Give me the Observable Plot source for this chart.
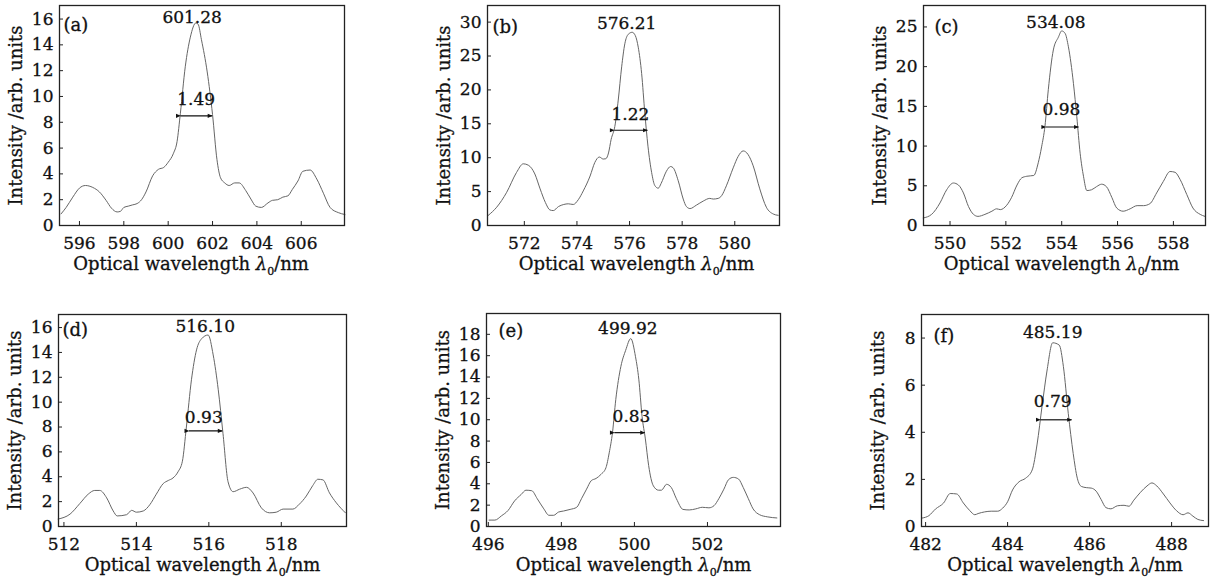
<!DOCTYPE html>
<html><head><meta charset="utf-8">
<script src="https://cdn.jsdelivr.net/npm/d3@7"></script>
<script src="https://cdn.jsdelivr.net/npm/@observablehq/plot@0.6"></script>
<style>
html,body{margin:0;padding:0;background:#fff;}
#chart{position:relative;width:1220px;height:587px;overflow:hidden;background:#fff;}
#chart svg{position:absolute;overflow:visible;}
#chart svg text{stroke:#111;stroke-width:0.3px;}
</style></head><body><div id="chart"></div>
<script>
// ---------- data (wavelength nm, intensity arb. units) ----------
const specA = [[595.17,0.9],[595.4,1.4],[595.7,2.2],[596.0,2.9],[596.27,3.1],[596.6,2.95],[596.9,2.6],[597.2,1.95],[597.44,1.35],[597.7,1.05],[597.85,1.1],[598.0,1.4],[598.2,1.5],[598.4,1.6],[598.6,1.7],[598.8,2.0],[599.0,2.6],[599.3,3.85],[599.56,4.35],[599.8,4.5],[600.0,4.9],[600.24,5.6],[600.4,6.5],[600.55,8.7],[600.77,12.3],[601.0,14.6],[601.25,15.7],[601.35,15.6],[601.5,14.4],[601.76,11.9],[602.0,8.6],[602.2,5.1],[602.36,3.7],[602.55,3.3],[602.75,3.1],[603.0,3.3],[603.2,3.3],[603.5,2.7],[603.73,2.05],[603.95,1.5],[604.2,1.4],[604.5,1.75],[604.7,1.95],[604.94,2.0],[605.17,2.2],[605.4,2.3],[605.6,2.8],[605.85,3.45],[606.07,4.2],[606.4,4.3],[606.7,3.6],[607.0,2.5],[607.3,1.4],[607.67,1.0],[607.97,0.85]];
const specB = [[570.63,1.5],[570.95,2.7],[571.33,4.9],[571.7,7.8],[571.96,9.1],[572.15,8.9],[572.4,7.6],[572.6,5.4],[572.8,3.4],[572.97,2.3],[573.1,2.2],[573.3,2.8],[573.5,3.1],[573.67,3.2],[573.86,3.1],[574.05,3.8],[574.24,5.1],[574.5,7.3],[574.68,9.3],[574.85,10.1],[575.0,9.8],[575.1,9.85],[575.2,10.7],[575.3,12.7],[575.44,14.6],[575.57,18.5],[575.7,23.4],[575.82,26.8],[575.95,28.2],[576.1,28.5],[576.22,28.0],[576.33,26.3],[576.46,22.4],[576.58,16.6],[576.7,11.7],[576.84,7.8],[576.96,5.9],[577.09,5.5],[577.2,6.2],[577.4,8.0],[577.56,8.7],[577.66,8.5],[577.85,6.6],[578.04,3.9],[578.16,2.8],[578.3,2.5],[578.54,3.0],[578.8,3.6],[579.05,4.0],[579.18,3.9],[579.37,4.0],[579.5,4.4],[579.68,5.85],[579.94,8.5],[580.13,10.2],[580.32,11.0],[580.5,10.5],[580.7,8.8],[580.95,5.4],[581.2,2.7],[581.46,1.7],[581.65,1.5]];
const specC = [[549.04,0.95],[549.34,1.4],[549.64,2.84],[549.88,4.5],[550.12,5.35],[550.3,5.1],[550.48,4.1],[550.66,2.4],[550.84,1.4],[551.0,1.15],[551.25,1.4],[551.5,1.8],[551.67,2.1],[551.8,2.0],[552.03,2.55],[552.2,3.5],[552.4,5.1],[552.57,6.0],[552.75,6.2],[553.0,6.3],[553.16,7.9],[553.28,9.9],[553.4,12.5],[553.52,17.1],[553.7,22.1],[553.88,23.7],[554.0,24.5],[554.12,24.2],[554.24,22.5],[554.42,17.9],[554.54,13.7],[554.66,9.1],[554.78,6.2],[554.9,4.4],[555.07,4.5],[555.25,4.9],[555.43,5.2],[555.6,4.9],[555.8,3.5],[555.97,2.2],[556.2,1.8],[556.45,2.1],[556.7,2.5],[556.93,2.5],[557.16,2.75],[557.4,4.1],[557.64,5.55],[557.88,6.8],[558.06,6.7],[558.24,5.8],[558.48,3.9],[558.7,2.2],[558.96,1.4],[559.13,1.15]];
const specD = [[511.84,0.6],[512.17,1.0],[512.44,1.85],[512.67,2.6],[512.85,2.9],[512.99,2.9],[513.18,2.3],[513.36,1.25],[513.47,0.85],[513.73,0.95],[513.87,1.3],[514.0,1.15],[514.19,1.25],[514.37,1.75],[514.55,2.6],[514.74,3.45],[514.88,3.7],[515.01,3.9],[515.15,4.4],[515.27,5.25],[515.38,8.0],[515.52,11.8],[515.66,14.2],[515.8,15.1],[515.98,15.4],[516.12,13.8],[516.26,11.0],[516.39,7.5],[516.53,3.6],[516.67,2.8],[516.85,3.0],[517.04,3.15],[517.22,2.7],[517.45,1.5],[517.68,1.1],[517.86,1.15],[518.05,1.4],[518.32,1.4],[518.5,1.8],[518.69,2.45],[518.87,3.3],[519.01,3.8],[519.15,3.75],[519.33,2.7],[519.52,1.9],[519.77,1.1]];
const specE = [[496.02,0.6],[496.18,0.6],[496.36,1.0],[496.54,1.5],[496.72,2.4],[496.9,3.0],[497.03,3.4],[497.19,3.35],[497.34,2.6],[497.52,1.65],[497.66,1.05],[497.79,1.05],[497.92,1.35],[498.06,1.45],[498.24,1.6],[498.42,1.8],[498.55,2.6],[498.69,3.5],[498.82,4.3],[498.95,4.5],[499.09,4.9],[499.22,5.5],[499.31,6.9],[499.4,8.8],[499.49,11.9],[499.63,15.0],[499.76,16.5],[499.9,17.6],[500.03,15.9],[500.12,13.8],[500.21,10.3],[500.3,8.2],[500.39,5.7],[500.52,3.8],[500.66,3.4],[500.74,3.4],[500.88,3.95],[501.01,3.65],[501.15,2.6],[501.33,1.6],[501.5,1.55],[501.68,1.65],[501.86,1.8],[502.04,1.75],[502.18,1.95],[502.31,2.6],[502.45,3.5],[502.58,4.4],[502.71,4.6],[502.85,4.45],[502.98,3.65],[503.12,2.6],[503.25,1.65],[503.43,1.1],[503.65,0.9],[503.9,0.8]];
const specF = [[481.92,0.36],[482.08,0.46],[482.24,0.74],[482.44,1.0],[482.6,1.4],[482.76,1.38],[482.92,1.0],[483.08,0.67],[483.2,0.5],[483.28,0.55],[483.44,0.62],[483.6,0.65],[483.76,0.65],[483.88,0.78],[484.0,1.05],[484.12,1.55],[484.28,1.9],[484.44,2.05],[484.6,2.4],[484.72,3.5],[484.84,5.1],[484.96,6.6],[485.1,7.8],[485.26,7.7],[485.36,6.8],[485.48,4.8],[485.6,3.1],[485.7,2.05],[485.8,1.7],[485.92,1.65],[486.04,1.63],[486.16,1.5],[486.28,1.15],[486.4,0.8],[486.52,0.75],[486.68,0.88],[486.84,0.9],[486.96,0.86],[487.08,1.12],[487.24,1.45],[487.4,1.72],[487.52,1.85],[487.64,1.72],[487.8,1.38],[487.96,1.0],[488.12,0.67],[488.28,0.5],[488.4,0.58],[488.52,0.44],[488.64,0.3],[488.78,0.25]];
const spectra = [specA, specB, specC, specD, specE, specF];

const panelTags = ["(a)", "(b)", "(c)", "(d)", "(e)", "(f)"];
const xDomains = [[595.1, 607.95], [570.6, 581.7], [549.05, 559.15], [511.85, 519.8], [495.95, 504.0], [481.9, 488.9]];
const yMax = [17.05, 32.45, 27.7, 17.05, 19.95, 9.0];
const xTicks = [[596, 598, 600, 602, 604, 606], [572, 574, 576, 578, 580], [550, 552, 554, 556, 558], [512, 514, 516, 518], [496, 498, 500, 502], [482, 484, 486, 488]];
const yTicks = [[0, 2, 4, 6, 8, 10, 12, 14, 16], [0, 5, 10, 15, 20, 25, 30], [0, 5, 10, 15, 20, 25], [0, 2, 4, 6, 8, 10, 12, 14, 16], [0, 2, 4, 6, 8, 10, 12, 14, 16, 18], [0, 2, 4, 6, 8]];

// peak-wavelength labels
const peakText = ["601.28", "576.21", "534.08", "516.10", "499.92", "485.19"];
const peakX = [601.08, 575.89, 553.79, 515.9, 499.82, 485.1];
const peakY = [16.1, 29.85, 25.6, 16.06, 18.5, 8.22];
// FWHM labels and arrows
const fwhmText = ["1.49", "1.22", "0.98", "0.93", "0.83", "0.79"];
const fwhmX = [601.26, 576.03, 553.99, 515.86, 499.92, 485.1];
const fwhmY = [9.76, 16.4, 14.55, 8.8, 10.28, 5.3];
const arrowX1 = [600.55, 575.42, 553.43, 515.45, 499.45, 484.8];
const arrowX2 = [601.98, 576.68, 554.6, 516.37, 500.28, 485.56];
const arrowY = [8.5, 14.05, 12.4, 7.69, 8.79, 4.53];

const xTitle = "Optical wavelength";
const yTitle = "Intensity /arb. units";

// ---------- layout (frame edges in page pixels) ----------
const frames = [
  {L: 59, R: 344, T: 5, B: 225}, {L: 487, R: 779, T: 5, B: 225}, {L: 923, R: 1205, T: 5, B: 225},
  {L: 58, R: 346, T: 314, B: 526}, {L: 486, R: 780, T: 313, B: 526}, {L: 921, R: 1208, T: 314, B: 526}
];
const tagOffset = [[4, 20], [5, 22], [11, 22], [4, 16], [12, 18], [12, 22]];
const xTitleShift = [-11, 3, -3, 0, 0, 0];
const mL = 56, mR = 8, mT = 5, mB = 60;
const FONT = "'DejaVu Serif', serif";
const chart = document.getElementById("chart");

frames.forEach((f, i) => {
  const pw = f.R - f.L, ph = f.B - f.T;
  const svg = Plot.plot({
    width: pw + mL + mR, height: ph + mT + mB,
    marginLeft: mL, marginRight: mR, marginTop: mT, marginBottom: mB,
    style: {fontFamily: FONT, fontSize: "17px", color: "#111", background: "none", overflow: "visible"},
    x: {domain: xDomains[i]},
    y: {domain: [0, yMax[i]]},
    marks: [
      Plot.ruleX(xTicks[i], {stroke: "#222", strokeWidth: 1, insetTop: ph - 4}),
      Plot.ruleY(yTicks[i], {stroke: "#222", strokeWidth: 1, insetRight: pw - 4}),
      Plot.line(spectra[i], {x: d => d[0], y: d => d[1], stroke: "#666", strokeWidth: 1, curve: "monotone-x"}),
      Plot.link([{x1: arrowX1[i], x2: arrowX2[i], y: arrowY[i]}], {x1: "x1", x2: "x2", y1: "y", y2: "y", stroke: "#111", strokeWidth: 1.2, markerStart: "arrow", markerEnd: "arrow"}),
      Plot.text([{x: peakX[i], y: peakY[i], t: peakText[i]}], {x: "x", y: "y", text: "t", fill: "#111", fontSize: 17, textAnchor: "middle", lineAnchor: "middle"}),
      Plot.text([{x: fwhmX[i], y: fwhmY[i], t: fwhmText[i]}], {x: "x", y: "y", text: "t", fill: "#111", fontSize: 17, textAnchor: "middle", lineAnchor: "middle"}),
      Plot.text([panelTags[i]], {frameAnchor: "top-left", dx: tagOffset[i][0], dy: tagOffset[i][1], textAnchor: "start", lineAnchor: "middle", fill: "#111", fontSize: 18}),
      Plot.axisX({ticks: xTicks[i], tickSize: 0, tickPadding: 11, tickFormat: d => String(d), label: xTitle, labelAnchor: "center", labelArrow: "none", labelOffset: 44}),
      Plot.axisY({ticks: yTicks[i], tickSize: 0, tickPadding: 6, tickFormat: d => String(d), label: yTitle, labelAnchor: "center", labelArrow: "none", labelOffset: 50}),
      Plot.frame({stroke: "#222", strokeWidth: 1.3})
    ]
  });
  svg.style.left = (f.L - mL) + "px";
  svg.style.top = (f.T - mT) + "px";
  // filled arrowheads for the FWHM arrows
  svg.querySelectorAll("marker").forEach(m => {
    m.setAttribute("fill", "#111");
    m.setAttribute("stroke", "none");
    m.setAttribute("viewBox", "-8 -5 10 10");
    m.querySelectorAll("path").forEach(p => p.setAttribute("d", "M-5.5,-2.6L0.5,0L-5.5,2.6Z"));
  });
  // axis titles: larger size, and subscripted lambda for x
  const yl = svg.querySelector('[aria-label="y-axis label"] text');
  if (yl) yl.setAttribute("font-size", "18");
  const xl = svg.querySelector('[aria-label="x-axis label"] text');
  if (xl) {
    xl.setAttribute("font-size", "18");
    xl.setAttribute("dx", String(xTitleShift[i]));
    const base = xl.textContent;
    xl.textContent = "";
    const ns = "http://www.w3.org/2000/svg";
    const t1 = document.createElementNS(ns, "tspan"); t1.textContent = base + " ";
    const t2 = document.createElementNS(ns, "tspan"); t2.textContent = "λ"; t2.setAttribute("font-style", "italic");
    const t3 = document.createElementNS(ns, "tspan"); t3.textContent = "0"; t3.setAttribute("font-size", "11"); t3.setAttribute("dy", "5");
    const t4 = document.createElementNS(ns, "tspan"); t4.textContent = "/nm"; t4.setAttribute("dy", "-5");
    xl.append(t1, t2, t3, t4);
  }
  chart.appendChild(svg);
});
</script></body></html>
